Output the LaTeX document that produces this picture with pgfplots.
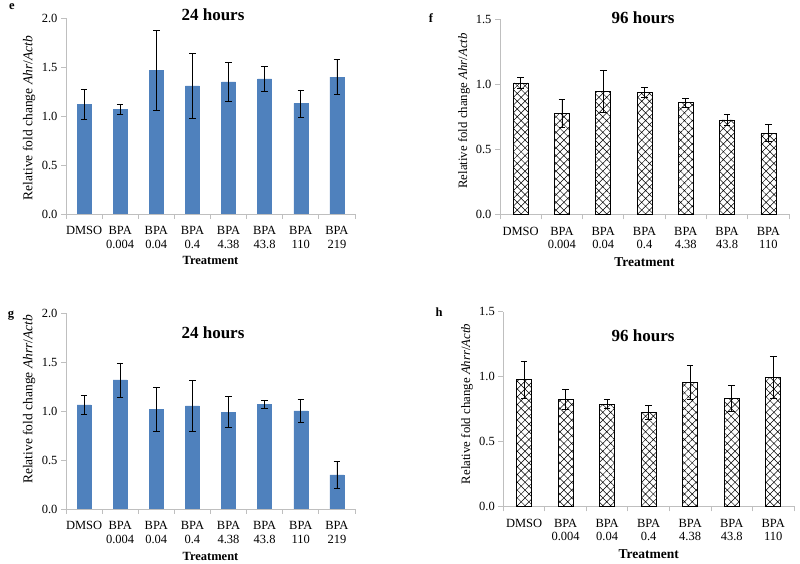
\documentclass[border=0pt]{standalone}
\usepackage{fontspec}
\setmainfont{Liberation Serif}
\usepackage{pgfplots}
\pgfplotsset{compat=1.18}
\usetikzlibrary{patterns.meta}
\definecolor{barblue}{HTML}{4F81BD}
\definecolor{axgray}{HTML}{BFBFBF}

\pgfplotsset{
  panel/.style={
    scale only axis, anchor=south west,
    ybar, ymin=0, enlargelimits=false,
    axis x line*=bottom, axis y line*=left,
    axis line style={axgray, line width=0.8pt, -},
    tick align=outside,
    major tick length=5pt, minor tick length=5pt,
    major x tick style={draw=none},
    minor x tick style={axgray, line width=0.8pt},
    major y tick style={axgray, line width=0.8pt},
    /pgf/number format/assume math mode=true,
    yticklabel style={font=\fontsize{12.5}{14}\selectfont, /pgf/number format/.cd, fixed, fixed zerofill, precision=1},
    xticklabel style={font=\fontsize{12.5}{13.8}\selectfont, align=center, yshift=-4pt},
    xlabel={\textbf{Treatment}},
    ylabel style={anchor=center, font=\fontsize{13.5}{15}\selectfont},
  },
  blueplot/.style={fill=barblue, draw=barblue,
    error bars/.cd, y dir=both, y explicit,
    error bar style={black, line width=0.8pt},
    error mark=-,
    error mark options={black, rotate=90, mark size=3.3pt, line width=0.8pt}},
  hatchplot/.style={draw=black, line width=0.7pt,
    pattern={Hatch[angle=45, distance=5.5pt, line width=0.5pt]}, pattern color=black,
    error bars/.cd, y dir=both, y explicit,
    error bar style={black, line width=0.8pt, solid},
    error mark=-,
    error mark options={black, rotate=90, mark size=3.3pt, line width=0.8pt}},
}

\pgfplotstableread{
x y e
0 1.12 0.150
1 1.07 0.048
2 1.47 0.410
3 1.31 0.335
4 1.35 0.200
5 1.38 0.125
6 1.13 0.138
7 1.40 0.175
}\datae
\pgfplotstableread{
x y e
0 1.010 0.045
1 0.778 0.108
2 0.946 0.160
3 0.938 0.039
4 0.859 0.035
5 0.726 0.044
6 0.623 0.066
}\dataf
\pgfplotstableread{
x y e
0 1.063 0.097
1 1.319 0.174
2 1.019 0.227
3 1.053 0.265
4 0.988 0.159
5 1.070 0.038
6 1.002 0.116
7 0.348 0.142
}\datag
\pgfplotstableread{
x y e
0 0.976 0.144
1 0.825 0.079
2 0.786 0.035
3 0.724 0.052
4 0.956 0.130
5 0.832 0.098
6 0.994 0.163
}\datah

\begin{document}
\begin{tikzpicture}
\useasboundingbox (0pt,0pt) rectangle (800pt,564pt);

% panel e
\begin{axis}[panel, at={(66pt,350pt)}, width=289pt, height=195.7pt,
  xmin=-0.5, xmax=7.5, ymax=2, ytick={0,0.5,...,2.0},
  xtick={0,...,7}, minor xtick={-0.5,0.5,...,7.5},
  xticklabels={DMSO,{BPA\\0.004},{BPA\\0.04},{BPA\\0.4},{BPA\\4.38},{BPA\\43.8},{BPA\\110},{BPA\\219}},
  bar width=14pt,
  ylabel={Relative fold change \textit{Ahr}/\textit{Actb}},
  ylabel style={at={(axis description cs:-0.128,0.49)}},
  xlabel style={at={(axis description cs:0.5,-0.24)}, anchor=center, font=\fontsize{12.5}{14}\selectfont},
]
\addplot[blueplot] table[x=x, y=y, y error=e] {\datae};
\end{axis}

% panel f
\begin{axis}[panel, at={(500pt,349.7pt)}, width=289pt, height=195pt,
  xmin=-0.5, xmax=6.5, ymax=1.5, ytick={0,0.5,...,1.5},
  xtick={0,...,6}, minor xtick={-0.5,0.5,...,6.5},
  xticklabels={DMSO,{BPA\\0.004},{BPA\\0.04},{BPA\\0.4},{BPA\\4.38},{BPA\\43.8},{BPA\\110}},
  bar width=15pt,
  ylabel={Relative fold change \textit{Ahr}/\textit{Actb}},
  ylabel style={at={(axis description cs:-0.125,0.53)}, font=\fontsize{12.8}{15}\selectfont},
  xlabel style={at={(axis description cs:0.5,-0.245)}, anchor=center, font=\fontsize{13.5}{15}\selectfont},
]
\addplot[hatchplot] table[x=x, y=y, y error=e] {\dataf};
\end{axis}

% panel g
\begin{axis}[panel, at={(66pt,55pt)}, width=289pt, height=195.7pt,
  xmin=-0.5, xmax=7.5, ymax=2, ytick={0,0.5,...,2.0},
  xtick={0,...,7}, minor xtick={-0.5,0.5,...,7.5},
  xticklabels={DMSO,{BPA\\0.004},{BPA\\0.04},{BPA\\0.4},{BPA\\4.38},{BPA\\43.8},{BPA\\110},{BPA\\219}},
  bar width=14pt,
  ylabel={Relative fold change \textit{Ahrr}/\textit{Actb}},
  ylabel style={at={(axis description cs:-0.128,0.56)}},
  xlabel style={at={(axis description cs:0.5,-0.24)}, anchor=center, font=\fontsize{12.5}{14}\selectfont},
]
\addplot[blueplot] table[x=x, y=y, y error=e] {\datag};
\end{axis}

% panel h
\begin{axis}[panel, at={(503.3pt,57.7pt)}, width=290.7pt, height=194.6pt,
  xmin=-0.5, xmax=6.5, ymax=1.5, ytick={0,0.5,...,1.5},
  xtick={0,...,6}, minor xtick={-0.5,0.5,...,6.5},
  xticklabels={DMSO,{BPA\\0.004},{BPA\\0.04},{BPA\\0.4},{BPA\\4.38},{BPA\\43.8},{BPA\\110}},
  bar width=15pt,
  ylabel={Relative fold change \textit{Ahrr}/\textit{Actb}},
  ylabel style={at={(axis description cs:-0.125,0.526)}, font=\fontsize{12.8}{15}\selectfont},
  xlabel style={at={(axis description cs:0.5,-0.245)}, anchor=center, font=\fontsize{13.5}{15}\selectfont},
]
\addplot[hatchplot] table[x=x, y=y, y error=e] {\datah};
\end{axis}

% titles
\node[font=\bfseries\fontsize{17}{20}\selectfont] at (213pt,549pt) {24 hours};
\node[font=\bfseries\fontsize{17}{20}\selectfont] at (643pt,546pt) {96 hours};
\node[font=\bfseries\fontsize{17}{20}\selectfont] at (213pt,231pt) {24 hours};
\node[font=\bfseries\fontsize{17}{20}\selectfont] at (643pt,228pt) {96 hours};

% panel letters
\node[font=\bfseries\fontsize{12.5}{14}\selectfont, anchor=base] at (12pt,554pt) {e};
\node[font=\bfseries\fontsize{12.5}{14}\selectfont, anchor=base] at (431pt,541pt) {f};
\node[font=\bfseries\fontsize{12.5}{14}\selectfont, anchor=base] at (11pt,246pt) {g};
\node[font=\bfseries\fontsize{12.5}{14}\selectfont, anchor=base] at (439pt,247pt) {h};
\end{tikzpicture}
\end{document}
